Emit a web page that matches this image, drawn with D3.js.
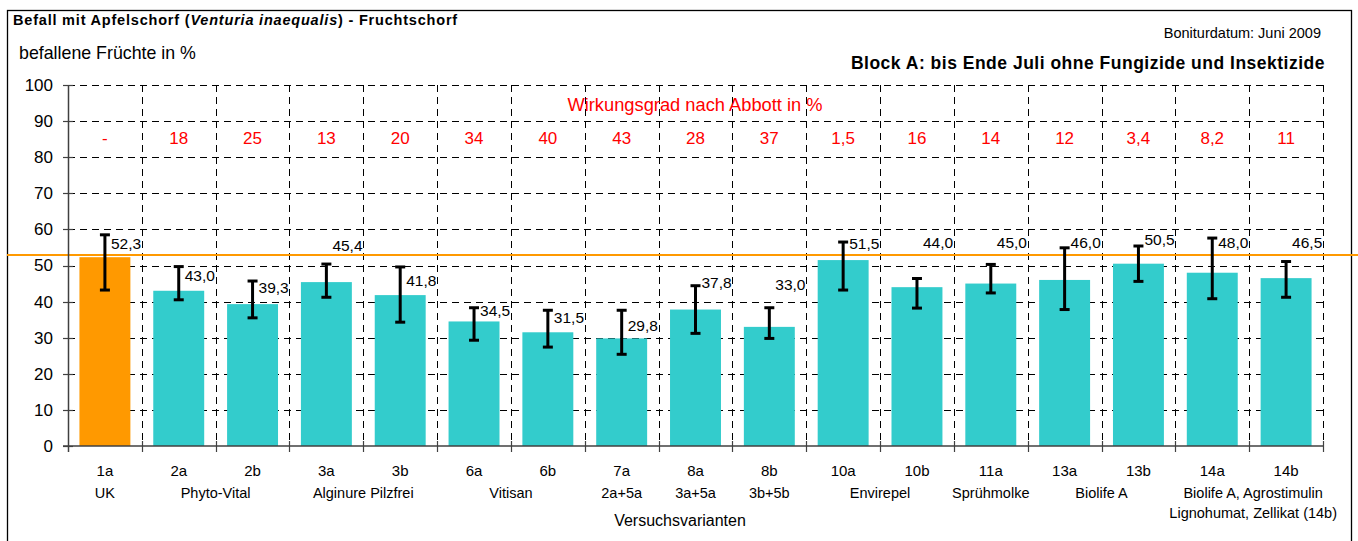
<!DOCTYPE html>
<html>
<head>
<meta charset="utf-8">
<script src="https://cdnjs.cloudflare.com/ajax/libs/d3/7.8.5/d3.min.js"></script>
<style>
  body { margin: 0; background: #fff; }
  svg { font-family: Arial, "Liberation Sans", sans-serif; }
</style>
</head>
<body>
<div id="container"></div>
<script>
// categories (Versuchsvarianten)
var codes = ["1a", "2a", "2b", "3a", "3b", "6a", "6b", "7a", "8a", "8b", "10a", "10b", "11a", "13a", "13b", "14a", "14b"];
// befallene Früchte in %
var values = [52.3, 43.0, 39.3, 45.4, 41.8, 34.5, 31.5, 29.8, 37.8, 33.0, 51.5, 44.0, 45.0, 46.0, 50.5, 48.0, 46.5];
// error bar ends
var errHigh = [58.5, 49.7, 45.7, 50.4, 49.6, 38.3, 37.6, 37.6, 44.4, 38.3, 56.5, 46.4, 50.3, 54.9, 55.4, 57.6, 51.1];
var errLow = [43.2, 40.5, 35.5, 41.2, 34.3, 29.3, 27.4, 25.4, 31.2, 29.8, 43.2, 38.2, 42.4, 37.8, 45.6, 40.8, 41.2];
// Wirkungsgrad nach Abbott in %
var abbott = ["-", "18", "25", "13", "20", "34", "40", "43", "28", "37", "1,5", "16", "14", "12", "3,4", "8,2", "11"];
// product groups under the codes: name lines and first/last category
var groupNames = [["UK"], ["Phyto-Vital"], ["Alginure Pilzfrei"], ["Vitisan"], ["2a+5a"], ["3a+5a"], ["3b+5b"],
  ["Envirepel"], ["Sprühmolke"], ["Biolife A"], ["Biolife A, Agrostimulin", "Lignohumat, Zellikat (14b)"]];
var groupSpans = [[0, 0], [1, 2], [3, 4], [5, 6], [7, 7], [8, 8], [9, 9], [10, 11], [12, 12], [13, 14], [15, 16]];
var yTicks = [0, 10, 20, 30, 40, 50, 60, 70, 80, 90, 100];
var refValue = 52.9;
// where each value label sits (in % units, label middle)
var labelAt = [56.0, 47.1, 43.8, 55.4, 45.7, 37.4, 35.5, 33.4, 45.3, 44.6, 56.2, 56.3, 56.3, 56.3, 57.3, 56.3, 56.3];

var width = 1358, height = 541;
var margin = {top: 85, right: 35, bottom: 95, left: 68};

var svg = d3.select("#container").append("svg")
  .attr("width", width)
  .attr("height", height);

// frame
svg.append("rect")
  .attr("x", 7.5).attr("y", 10.5)
  .attr("width", 1344).attr("height", 540)
  .attr("fill", "none")
  .attr("stroke", "#000")
  .attr("stroke-width", 1.3);

var x = d3.scaleBand()
  .domain(codes)
  .range([margin.left, width - margin.right])
  .paddingInner(0.31)
  .paddingOuter(0.155);

var y = d3.scaleLinear()
  .domain([0, 100])
  .range([height - margin.bottom, margin.top]);

var step = x.step();
var x0 = margin.left, x1 = width - margin.right;
function bandLeft(i) { return x(codes[i]) - step * x.paddingInner() / 2; }
function center(i) { return x(codes[i]) + x.bandwidth() / 2; }
var fmt = function(v) { return d3.format(".1f")(v).replace(".", ","); };

// grid
svg.append("g").selectAll("line")
  .data(yTicks.slice(1))
  .enter().append("line")
  .attr("x1", x0).attr("x2", x1)
  .attr("y1", function(d) { return Math.round(y(d)) + 0.5; })
  .attr("y2", function(d) { return Math.round(y(d)) + 0.5; })
  .attr("stroke", "#000")
  .attr("stroke-width", 1)
  .attr("stroke-dasharray", "7,5");

svg.append("g").selectAll("line")
  .data(d3.range(1, codes.length + 1))
  .enter().append("line")
  .attr("x1", function(i) { return Math.round(i < codes.length ? bandLeft(i) : x1) + 0.5; })
  .attr("x2", function(i) { return Math.round(i < codes.length ? bandLeft(i) : x1) + 0.5; })
  .attr("y1", y(100)).attr("y2", y(0))
  .attr("stroke", "#000")
  .attr("stroke-width", 1)
  .attr("stroke-dasharray", "7,5");

// bars
svg.append("g").selectAll("rect")
  .data(values)
  .enter().append("rect")
  .attr("x", function(d, i) { return x(codes[i]); })
  .attr("width", x.bandwidth())
  .attr("y", function(d) { return y(d); })
  .attr("height", function(d) { return y(0) - y(d); })
  .attr("fill", function(d, i) { return i == 0 ? "#ff9900" : "#33cccc"; });

// reference line (UK level)
svg.append("line")
  .attr("x1", 7).attr("x2", width)
  .attr("y1", y(refValue)).attr("y2", y(refValue))
  .attr("stroke", "#ff9900")
  .attr("stroke-width", 2);

// axes
var yAxis = svg.append("g")
  .attr("transform", "translate(" + x0 + ",0)")
  .call(d3.axisLeft(y).tickValues(yTicks).tickSize(0).tickPadding(15));
yAxis.select(".domain").remove();
yAxis.selectAll("text")
  .attr("font-size", 17)
  .attr("font-family", "Arial, 'Liberation Sans', sans-serif")
  .attr("fill", "#000");

svg.append("line")
  .attr("x1", x0 + 0.5).attr("x2", x0 + 0.5)
  .attr("y1", y(100)).attr("y2", y(0) + 6)
  .attr("stroke", "#404040").attr("stroke-width", 1.5);
svg.append("line")
  .attr("x1", x0 - 5).attr("x2", x1)
  .attr("y1", y(0)).attr("y2", y(0))
  .attr("stroke", "#404040").attr("stroke-width", 1.5);

svg.append("g").selectAll("line")
  .data(yTicks)
  .enter().append("line")
  .attr("x1", x0 - 5).attr("x2", x0 + 5)
  .attr("y1", function(d) { return Math.round(y(d)) + 0.5; })
  .attr("y2", function(d) { return Math.round(y(d)) + 0.5; })
  .attr("stroke", "#404040").attr("stroke-width", 1.2);

svg.append("g").selectAll("line")
  .data(d3.range(1, codes.length + 1))
  .enter().append("line")
  .attr("x1", function(i) { return Math.round(i < codes.length ? bandLeft(i) : x1) + 0.5; })
  .attr("x2", function(i) { return Math.round(i < codes.length ? bandLeft(i) : x1) + 0.5; })
  .attr("y1", y(0) - 5).attr("y2", y(0) + 6)
  .attr("stroke", "#404040").attr("stroke-width", 1.2);

// error bars
var err = svg.append("g").attr("stroke", "#000").attr("stroke-width", 3);
codes.forEach(function(c, i) {
  var cx = center(i);
  err.append("line").attr("x1", cx).attr("x2", cx).attr("y1", y(errHigh[i])).attr("y2", y(errLow[i]));
  err.append("line").attr("x1", cx - 5).attr("x2", cx + 5).attr("y1", y(errHigh[i])).attr("y2", y(errHigh[i]));
  err.append("line").attr("x1", cx - 5).attr("x2", cx + 5).attr("y1", y(errLow[i])).attr("y2", y(errLow[i]));
});

// value labels
svg.append("g").selectAll("text")
  .data(values)
  .enter().append("text")
  .attr("x", function(d, i) { return center(i) + 6; })
  .attr("y", function(d, i) { return y(labelAt[i]); })
  .attr("dy", "0.35em")
  .attr("font-size", 15.5)
  .attr("fill", "#000")
  .text(fmt);

// Abbott efficacy
svg.append("text")
  .attr("x", 695)
  .attr("y", y(94.7))
  .attr("dy", "0.35em")
  .attr("text-anchor", "middle")
  .attr("font-size", 18.3)
  .attr("fill", "#ff0000")
  .text("Wirkungsgrad nach Abbott in %");

svg.append("g").selectAll("text")
  .data(abbott)
  .enter().append("text")
  .attr("x", function(d, i) { return center(i); })
  .attr("y", y(85.4))
  .attr("dy", "0.35em")
  .attr("text-anchor", "middle")
  .attr("font-size", 17)
  .attr("fill", "#ff0000")
  .text(function(d) { return d; });

// category labels
svg.append("g").selectAll("text")
  .data(codes)
  .enter().append("text")
  .attr("x", function(d, i) { return center(i); })
  .attr("y", 471)
  .attr("dy", "0.35em")
  .attr("text-anchor", "middle")
  .attr("font-size", 15)
  .text(function(d) { return d; });

var grp = svg.append("g").selectAll("text")
  .data(groupNames)
  .enter().append("text")
  .attr("text-anchor", "middle")
  .attr("font-size", 14.5)
  .attr("x", function(d, i) { return (center(groupSpans[i][0]) + center(groupSpans[i][1])) / 2 + (d.length > 1 ? 4 : 0); })
  .attr("y", 493);
grp.selectAll("tspan")
  .data(function(d) { return d; })
  .enter().append("tspan")
  .attr("x", function() { return d3.select(this.parentNode).attr("x"); })
  .attr("dy", function(d, i) { return i == 0 ? "0.35em" : "1.38em"; })
  .text(function(d) { return d; });

svg.append("text")
  .attr("x", 680)
  .attr("y", 520)
  .attr("dy", "0.35em")
  .attr("text-anchor", "middle")
  .attr("font-size", 16)
  .text("Versuchsvarianten");

// titles
var title = svg.append("text")
  .attr("x", 13).attr("y", 20)
  .attr("dy", "0.35em")
  .attr("font-size", 14.5)
  .attr("font-weight", "bold")
  .attr("letter-spacing", 0.8);
title.append("tspan").text("Befall mit Apfelschorf (");
title.append("tspan").attr("font-style", "italic").text("Venturia inaequalis");
title.append("tspan").text(") - Fruchtschorf");

svg.append("text")
  .attr("x", 19).attr("y", 53)
  .attr("dy", "0.35em")
  .attr("font-size", 17.8)
  .text("befallene Früchte in %");

svg.append("text")
  .attr("x", 1321).attr("y", 33)
  .attr("dy", "0.35em")
  .attr("text-anchor", "end")
  .attr("font-size", 14.5)
  .text("Boniturdatum: Juni 2009");

svg.append("text")
  .attr("x", 1325).attr("y", 63)
  .attr("dy", "0.35em")
  .attr("text-anchor", "end")
  .attr("font-size", 17.5)
  .attr("font-weight", "bold")
  .attr("letter-spacing", 0.5)
  .text("Block A: bis Ende Juli ohne Fungizide und Insektizide");
</script>
</body>
</html>
